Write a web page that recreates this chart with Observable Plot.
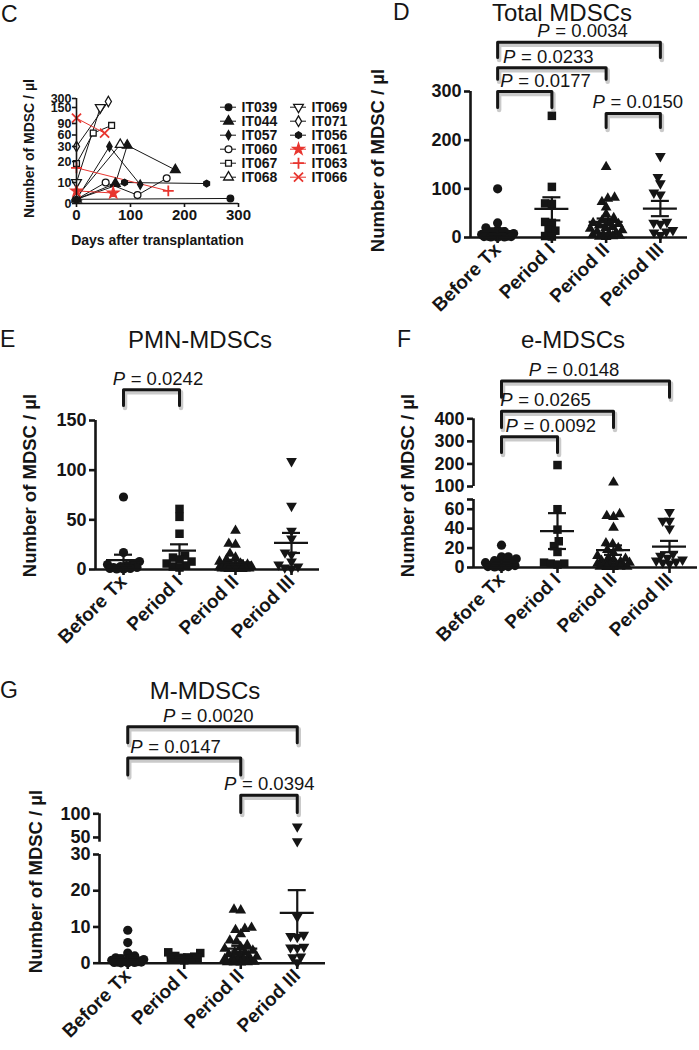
<!DOCTYPE html>
<html>
<head>
<meta charset="utf-8">
<script src="https://cdn.jsdelivr.net/npm/d3@7"></script>
<script src="https://cdn.jsdelivr.net/npm/@observablehq/plot@0.6"></script>
<style>
  body { margin: 0; background: #fff; }
  #fig { position: relative; width: 699px; height: 1050px; overflow: hidden; background: #fff;
         font-family: "Liberation Sans", Arial, Helvetica, sans-serif; color: #151515; }
  .panel { position: absolute; }
  .panel svg { overflow: visible; }
  .txt { position: absolute; line-height: 1; white-space: nowrap; }
  .ttl { transform: translateX(-50%); }
</style>
</head>
<body>
<div id="fig"></div>
<script>
// ---------------- DATA ----------------
const groups = ["Before Tx", "Period I", "Period II", "Period III"];

// Panel D: Total MDSCs (cells / µl)
const totalBeforeTx = [100, 30, 20, 15, 12, 10, 8, 6, 5, 4, 3, 3, 2, 2, 1, 1, 0.5];
const totalPeriodI  = [250, 104, 70, 69, 32, 30, 15, 14, 3, 2];
const totalPeriodII = [145, 82, 80, 73, 62, 48, 40, 35, 32, 30, 28, 25, 22, 20, 18, 15, 12, 10, 8, 6, 5, 4, 3, 2, 1];
const totalPeriodIII = [167, 124, 111, 92, 88, 32, 30, 28, 15, 12, 10, 5];

// Panel E: PMN-MDSCs
const pmnBeforeTx = [73, 17, 8, 6, 5, 4, 3, 2, 2, 1, 1, 0.5, 0.5];
const pmnPeriodI  = [61, 53, 36, 14, 12, 10, 8, 6, 4, 3, 2];
const pmnPeriodII = [39, 26, 25, 16, 12, 10, 8, 6, 5, 5, 4, 4, 3, 3, 3, 2, 2, 2, 1, 1, 1, 1, 0.5, 0.5, 0.5];
const pmnPeriodIII = [109, 64, 39, 31, 17, 15, 8, 5, 3, 2, 1];

// Panel F: e-MDSCs
const eBeforeTx = [23, 11, 11, 9, 7, 5, 4, 3, 3, 2, 2, 1, 1, 0.5, 0.5];
const ePeriodI  = [195, 60, 39, 27, 22, 16, 5, 4, 4, 3];
const ePeriodII = [118, 55, 53, 52, 41, 25, 24, 20, 18, 15, 12, 10, 9, 8, 7, 6, 5, 5, 4, 3, 3, 2, 2, 1, 1, 1, 0.5, 0.5];
const ePeriodIII = [57, 48, 48, 40, 14, 12, 10, 8, 7, 6, 5, 4];

// Panel G: M-MDSCs
const mBeforeTx = [9.1, 5.7, 2.8, 2, 1.5, 1.2, 1, 0.8, 0.6, 0.5, 0.4, 0.3, 0.3, 0.2, 0.2, 0.1, 0.1];
const mPeriodI  = [3, 2.8, 2, 1.8, 1.6, 1.5, 1.5, 1.4, 1.2, 1, 0.8];
const mPeriodII = [14.8, 14.6, 9.8, 9.5, 9.2, 8, 6.3, 6, 5, 4.5, 4, 3.5, 3, 3, 2.5, 2.2, 2, 1.8, 1.5, 1.2, 1, 0.8, 0.6, 0.5, 0.4, 0.3, 0.3, 0.2, 0.2];
const mPeriodIII = [73, 42, 12.8, 7.8, 7.5, 7.2, 4.5, 4.3, 4.2, 1.8, 1.6, 0.2];

// Significance brackets (group indices, bracket level & leg end in data units, label centre in group units)
const totalBrackets = [
  {from: 0, to: 3, p: "0.0034", top: 401, leg: 370, at: 1.56},
  {from: 0, to: 2, p: "0.0233", top: 349, leg: 325, at: 0.93},
  {from: 0, to: 1, p: "0.0177", top: 300, leg: 267, at: 0.88},
  {from: 2, to: 3, p: "0.0150", top: 255, leg: 226, at: 2.58}
];
const pmnBrackets = [
  {from: 0, to: 1, p: "0.0242", top: 181, leg: 165, at: 0.61}
];
const eBrackets = [
  {from: 0, to: 3, p: "0.0148", top: 568, leg: 496, at: 1.29},
  {from: 0, to: 2, p: "0.0265", top: 433, leg: 361, at: 0.78},
  {from: 0, to: 1, p: "0.0092", top: 321, leg: 251, at: 0.875}
];
const mBrackets = [
  {from: 0, to: 3, p: "0.0020", top: 284, leg: 250, at: 1.42},
  {from: 0, to: 2, p: "0.0147", top: 218, leg: 182, at: 0.84},
  {from: 2, to: 3, p: "0.0394", top: 139, leg: 103, at: 2.5}
];

// Panel C: kinetics per patient (patient, day after transplantation, MDSC / µl)
const cPatients = ["IT039", "IT044", "IT057", "IT060", "IT067", "IT068", "IT069", "IT071", "IT056", "IT061", "IT063", "IT066"];
const cSeries = [
  ["IT039", 0, 2], ["IT039", 285, 2.4],
  ["IT044", 0, 2], ["IT044", 72, 9.5], ["IT044", 94, 33], ["IT044", 183, 16],
  ["IT057", 0, 2], ["IT057", 61, 30], ["IT057", 118, 9],
  ["IT060", 0, 2], ["IT060", 54, 10], ["IT060", 113, 4], ["IT060", 167, 12],
  ["IT067", 0, 19], ["IT067", 31, 65], ["IT067", 65, 85],
  ["IT068", 0, 3], ["IT068", 81, 35],
  ["IT069", 0, 10], ["IT069", 44, 150],
  ["IT071", 0, 30], ["IT071", 59, 250],
  ["IT056", 0, 2], ["IT056", 89, 10], ["IT056", 241, 9.5],
  ["IT061", 0, 6], ["IT061", 68, 5],
  ["IT063", 0, 17], ["IT063", 170, 6],
  ["IT066", 0, 110], ["IT066", 52, 65]
];
const cDayTicks = [0, 100, 200, 300];
const cValueTicks = [0, 10, 20, 30, 60, 90, 150, 300];

// ---------------- STYLE ----------------
const INK = "#151515";
const RED = "#e8352f";
const FONT = '"Liberation Sans", Arial, Helvetica, sans-serif';
const groupSymbols = [
  {symbol: "circle", r: 4.6, rotate: 0},
  {symbol: "square", r: 4.8, rotate: 0},
  {symbol: "triangle", r: 4.0, rotate: 0},
  {symbol: "triangle", r: 4.0, rotate: 180}
];
const cMarkers = [
  {symbol: "circle", fill: true, color: INK, r: 3.3, rotate: 0},
  {symbol: "triangle", fill: true, color: INK, r: 3.6, rotate: 0},
  {symbol: "diamond", fill: true, color: INK, r: 2.8, rotate: 0},
  {symbol: "circle", fill: false, color: INK, r: 3.4, rotate: 0},
  {symbol: "square", fill: false, color: INK, r: 3.3, rotate: 0},
  {symbol: "triangle", fill: false, color: INK, r: 3.6, rotate: 0},
  {symbol: "triangle", fill: false, color: INK, r: 3.6, rotate: 180},
  {symbol: "diamond", fill: false, color: INK, r: 3.2, rotate: 0},
  {symbol: "hexagon", fill: true, color: INK, r: 2.9, rotate: 0},
  {symbol: "star", fill: true, color: RED, r: 3.6, rotate: 0},
  {symbol: "plus", fill: false, color: RED, r: 3.6, rotate: 0},
  {symbol: "times", fill: false, color: RED, r: 4.2, rotate: 0}
];

// ---------------- HELPERS ----------------
const fig = document.getElementById("fig");
function place(node, left, top) {
  const wrap = document.createElement("div");
  wrap.className = "panel";
  wrap.style.left = left + "px";
  wrap.style.top = top + "px";
  wrap.appendChild(node);
  fig.appendChild(wrap);
}
function addText(str, left, top, size, centered) {
  const d = document.createElement("div");
  d.className = "txt" + (centered ? " ttl" : "");
  d.textContent = str;
  d.style.left = left + "px";
  d.style.top = top + "px";
  d.style.fontSize = size + "px";
  fig.appendChild(d);
}
// broken (segmented) value axis: value -> fraction of the axis height
function brokenAxis(domain, pixels) {
  const p0 = pixels[0], p1 = pixels[pixels.length - 1];
  return d3.scaleLinear().domain(domain).range(pixels.map(p => (p0 - p) / (p0 - p1)));
}
// beeswarm offsets (pixels): points spread sideways within a limited width, overlapping when crowded
function swarm(vals, ys, r, maxW) {
  const order = d3.range(vals.length).sort((a, b) => vals[a] - vals[b]);
  const placed = [], out = new Array(vals.length);
  const grid = d3.range(-maxW, maxW + 0.01, 1).sort((a, b) => Math.abs(a) - Math.abs(b));
  for (const i of order) {
    const y = ys(vals[i]);
    const iv = [];
    for (const p of placed) {
      const dy = y - p.y;
      if (Math.abs(dy) < 2 * r) { const h = Math.sqrt(4 * r * r - dy * dy); iv.push([p.x - h, p.x + h]); }
    }
    const free = c => iv.every(([a, b]) => c <= a + 1e-6 || c >= b - 1e-6);
    const cands = [0].concat(...iv).filter(c => Math.abs(c) <= maxW).sort((a, b) => Math.abs(a) - Math.abs(b));
    let x = cands.find(free);
    if (x === undefined) {
      let bestD = -1;
      for (const c of grid) {
        const dmin = d3.min(placed, p => Math.hypot(p.x - c, p.y - y));
        if (dmin > bestD + 1e-6) { bestD = dmin; x = c; }
      }
    }
    placed.push({x, y});
    out[i] = x;
  }
  return out;
}

function scatterPanel(cfg) {
  const px = d3.scaleLinear().domain(cfg.yDomain).range(cfg.yRange);
  const lin = brokenAxis(cfg.yDomain, cfg.yRange);
  const hide = cfg.hideTick;
  const unit = (cfg.xRange[1] - cfg.xRange[0]) / 4;
  const pts = [];
  cfg.values.forEach((vals, i) => {
    const offs = swarm(vals, px, 3.4, 16);
    vals.forEach((v, k) => pts.push({i, v, x: i + offs[k] / unit}));
  });
  const stats = cfg.values.map((vals, i) => {
    const m = d3.mean(vals), se = d3.deviation(vals) / Math.sqrt(vals.length);
    return {i, mean: m, lo: m - se, hi: m + se};
  });
  const bp = cfg.brackets.flatMap((b, k) => [
    {k, x: b.from, y: b.leg}, {k, x: b.from, y: b.top}, {k, x: b.to, y: b.top}, {k, x: b.to, y: b.leg}
  ]);
  const marks = [];
  groupSymbols.forEach((s, i) => {
    marks.push(Plot.dot(pts.filter(d => d.i === i), {x: "x", y: d => lin(d.v), symbol: s.symbol, r: s.r, rotate: s.rotate, fill: INK, stroke: "none"}));
  });
  marks.push(
    Plot.ruleY(stats, {y: d => lin(d.mean), x1: "i", x2: "i", insetLeft: -17, insetRight: -17, stroke: INK, strokeWidth: 2.2}),
    Plot.ruleY(stats, {y: d => lin(d.hi), x1: "i", x2: "i", insetLeft: -9, insetRight: -9, stroke: INK, strokeWidth: 2.2}),
    Plot.ruleY(stats, {y: d => lin(d.lo), x1: "i", x2: "i", insetLeft: -9, insetRight: -9, stroke: INK, strokeWidth: 2.2}),
    Plot.ruleX(stats, {x: "i", y1: d => lin(d.lo), y2: d => lin(d.hi), stroke: INK, strokeWidth: 2.2}),
    Plot.ruleX(cfg.axisSegs, {x: -0.5, y1: d => lin(d[0]), y2: d => lin(d[1]), stroke: INK, strokeWidth: 2.6}),
    Plot.ruleY([lin(0)], {x1: -0.5, x2: 3.5, stroke: INK, strokeWidth: 2.6}),
    Plot.axisY(cfg.yTicks.map(t => lin(t)), {tickSize: 6, tickPadding: 3, strokeWidth: 2.6, fontSize: 18, fontWeight: "bold",
      tickFormat: d => { const v = Math.round(lin.invert(d)); return v === hide ? "" : String(v); }, label: null}),
    Plot.axisX([0, 1, 2, 3], {tickSize: 6, tickPadding: 3, strokeWidth: 2.6, tickRotate: -45, fontSize: 19, fontWeight: "bold",
      tickFormat: i => groups[i], label: null}),
    Plot.line(bp, {x: "x", y: d => lin(d.y), z: "k", stroke: "#8a8a8a", strokeOpacity: 0.45, strokeWidth: 4.5, dx: 1.5, dy: 2.5}),
    Plot.line(bp, {x: "x", y: d => lin(d.y), z: "k", stroke: INK, strokeWidth: 3}),
    Plot.text(cfg.brackets, {x: "at", y: d => lin(d.top), text: () => "P", fontStyle: "italic", fontSize: 18.5,
      textAnchor: "start", lineAnchor: "bottom", dx: -45, dy: -5, fill: INK}),
    Plot.text(cfg.brackets, {x: "at", y: d => lin(d.top), text: d => "= " + d.p, fontSize: 18.5,
      textAnchor: "start", lineAnchor: "bottom", dx: -27, dy: -5, fill: INK}),
    Plot.text(["Number of MDSC / µl"], {text: d => d, frameAnchor: "left", textAnchor: "middle", rotate: -90,
      dx: cfg.labelDx, dy: cfg.labelDy, fontSize: 18.5, fontWeight: "bold", fill: INK})
  );
  const yr = cfg.yRange;
  return Plot.plot({
    width: cfg.width, height: cfg.height,
    marginTop: cfg.margin[0], marginRight: cfg.margin[1], marginBottom: cfg.margin[2], marginLeft: cfg.margin[3],
    x: {domain: [-0.5, 3.5], range: cfg.xRange},
    y: {domain: [0, 1], range: [yr[0], yr[yr.length - 1]]},
    style: {fontFamily: FONT, color: INK, background: "transparent", overflow: "visible"},
    marks
  });
}

// ---------------- PANEL C ----------------
const cLin = brokenAxis([0, 20, 30, 90, 150, 300], [203, 161, 146, 123, 107, 98]);
const cRows = cSeries.map(([id, day, val]) => ({id, day, val}));
const cMarks = [];
cPatients.forEach((id, k) => {
  const m = cMarkers[k];
  const rows = cRows.filter(d => d.id === id);
  cMarks.push(Plot.line(rows, {x: "day", y: d => cLin(d.val), stroke: m.color, strokeWidth: 1}));
});
cPatients.forEach((id, k) => {
  const m = cMarkers[k];
  const rows = cRows.filter(d => d.id === id);
  const strokeOnly = m.symbol === "plus" || m.symbol === "times";
  cMarks.push(Plot.dot(rows, {x: "day", y: d => cLin(d.val), symbol: m.symbol, r: m.r, rotate: m.rotate,
    fill: m.fill ? m.color : (strokeOnly ? "none" : "white"), stroke: m.color, strokeWidth: strokeOnly ? 1.8 : 1.3}));
});
cMarks.push(
  Plot.ruleX([[0, 300]], {x: 0, y1: d => cLin(d[0]), y2: d => cLin(d[1]), stroke: INK, strokeWidth: 1.6}),
  Plot.ruleY([cLin(0)], {x1: 0, x2: 300, stroke: INK, strokeWidth: 1.6}),
  Plot.axisY(cValueTicks.map(t => cLin(t)), {tickSize: 4, tickPadding: 1, strokeWidth: 1.6, fontSize: 12.5, fontWeight: "bold",
    tickFormat: d => String(Math.round(cLin.invert(d))), label: null}),
  Plot.axisX(cDayTicks, {tickSize: 4, tickPadding: 2, strokeWidth: 1.6, fontSize: 15, fontWeight: "bold", label: null}),
  Plot.text(["Days after transplantation"], {text: d => d, frameAnchor: "bottom", lineAnchor: "bottom", dy: 41,
    fontSize: 14, fontWeight: "bold", fill: INK}),
  Plot.text(["Number of MDSC / µl"], {text: d => d, frameAnchor: "left", textAnchor: "middle", rotate: -90, dx: -47, dy: -2.5,
    fontSize: 14, fontWeight: "bold", fill: INK})
);
const plotC = Plot.plot({
  width: 245, height: 250,
  marginTop: 98, marginRight: 7, marginBottom: 47, marginLeft: 76,
  x: {domain: [0, 300], range: [76, 238]},
  y: {domain: [0, 1], range: [203, 98]},
  style: {fontFamily: FONT, color: INK, background: "transparent", overflow: "visible"},
  marks: cMarks
});
place(plotC, 0, 0);

// legend for panel C
const legendItems = cPatients.map((id, k) => ({id, k, col: Math.floor(k / 6), row: k % 6}));
const legMarks = [];
legendItems.forEach(d => {
  const m = cMarkers[d.k];
  const strokeOnly = m.symbol === "plus" || m.symbol === "times";
  legMarks.push(Plot.ruleY([d], {x1: "col", x2: "col", y: "row", insetLeft: -8, insetRight: -8, stroke: m.color, strokeWidth: 1}));
  legMarks.push(Plot.dot([d], {x: "col", y: "row", symbol: m.symbol, r: m.r, rotate: m.rotate,
    fill: m.fill ? m.color : (strokeOnly ? "none" : "white"), stroke: m.color, strokeWidth: strokeOnly ? 1.8 : 1.3}));
});
legMarks.push(Plot.text(legendItems, {x: "col", y: "row", text: "id", dx: 13, textAnchor: "start",
  fontSize: 14, fontWeight: "bold", fill: INK}));
const legend = Plot.plot({
  width: 125, height: 92, margin: 0,
  x: {domain: [0, 1], range: [13, 83], axis: null},
  y: {domain: [0, 5], range: [11.7, 81.7], axis: null},
  style: {fontFamily: FONT, color: INK, background: "transparent", overflow: "visible"},
  marks: legMarks
});
place(legend, 215, 95);

// ---------------- PANELS D-G ----------------
place(scatterPanel({
  values: [totalBeforeTx, totalPeriodI, totalPeriodII, totalPeriodIII], brackets: totalBrackets,
  width: 359, height: 320, margin: [91, 12, 83, 130], xRange: [130, 347],
  yDomain: [0, 300], yRange: [237, 91], yTicks: [0, 100, 200, 300], axisSegs: [[0, 300]],
  labelDx: -92, labelDy: -4
}), 340, 0);

place(scatterPanel({
  values: [pmnBeforeTx, pmnPeriodI, pmnPeriodII, pmnPeriodIII], brackets: pmnBrackets,
  width: 340, height: 330, margin: [90, 21, 91, 95], xRange: [95, 319],
  yDomain: [0, 150], yRange: [239, 90], yTicks: [0, 50, 100, 150], axisSegs: [[0, 150]],
  labelDx: -65.5, labelDy: -9.5
}), 0, 330);

place(scatterPanel({
  values: [eBeforeTx, ePeriodI, ePeriodII, ePeriodIII], brackets: eBrackets,
  width: 349, height: 330, margin: [88, 2, 93, 123], xRange: [123, 347],
  yDomain: [0, 70, 100, 400], yRange: [237, 169, 156, 88.3],
  yTicks: [0, 20, 40, 60, 70, 100, 200, 300, 400], hideTick: 70,
  axisSegs: [[0, 70], [100, 400]],
  labelDx: -65.5, labelDy: -7.5
}), 350, 330);

place(scatterPanel({
  values: [mBeforeTx, mPeriodI, mPeriodII, mPeriodIII], brackets: mBrackets,
  width: 340, height: 370, margin: [133, 15, 87, 99], xRange: [99, 325],
  yDomain: [0, 30, 40, 100], yRange: [282.7, 174, 161.7, 133.3],
  yTicks: [0, 10, 20, 30, 50, 100], axisSegs: [[0, 30], [40, 100]],
  labelDx: -63, labelDy: -7
}), 0, 680);

// ---------------- TITLES / PANEL LETTERS ----------------
addText("C", 1, 3, 23, false);
addText("D", 393, 1, 23, false);
addText("Total MDSCs", 562, 1, 24, true);
addText("E", 0, 328, 23, false);
addText("PMN-MDSCs", 200, 328, 24, true);
addText("F", 397, 328, 23, false);
addText("e-MDSCs", 573, 328, 24, true);
addText("G", 0, 679, 23, false);
addText("M-MDSCs", 205, 679, 24, true);
</script>
</body>
</html>
